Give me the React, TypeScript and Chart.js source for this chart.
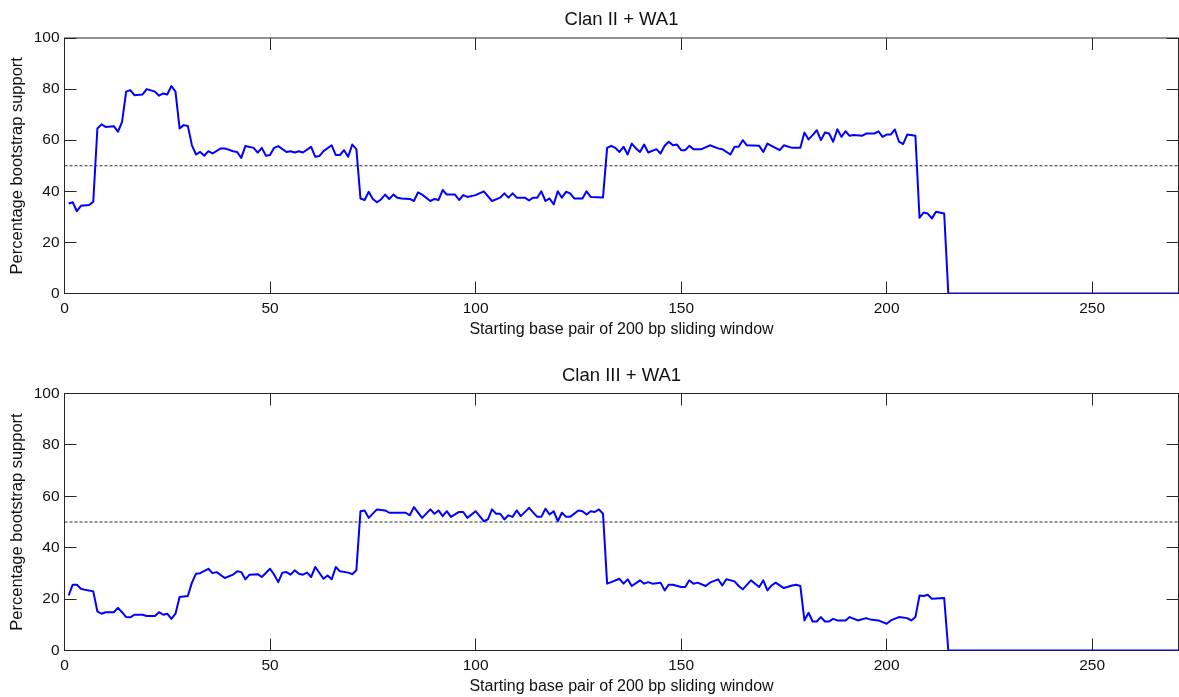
import React, { useEffect, useRef } from 'react';
import { Chart, registerables } from 'chart.js';

Chart.register(...registerables);

// Window start positions (bp) and bootstrap support (%) for Clan II + WA1
const clanIIStart = [1, 2, 3, 4, 6, 7, 8, 9, 10, 12, 13, 14, 15, 16, 17, 19, 20, 22, 23, 24, 25, 26, 27, 28, 29, 30, 31, 32, 33, 34, 35, 36, 38, 39, 41, 42, 43, 44, 46, 47, 48, 49, 50, 51, 52, 54, 55, 56, 57, 58, 60, 61, 62, 63, 65, 66, 67, 68, 69, 70, 71, 72, 73, 74, 75, 76, 77, 78, 79, 80, 81, 82, 84, 85, 86, 87, 89, 90, 91, 92, 93, 95, 96, 97, 98, 100, 102, 104, 106, 107, 108, 109, 110, 112, 113, 114, 115, 116, 117, 118, 119, 120, 121, 122, 123, 124, 126, 127, 128, 131, 132, 133, 134, 135, 136, 137, 138, 139, 140, 141, 142, 144, 145, 146, 147, 148, 149, 150, 151, 152, 153, 155, 157, 159, 160, 162, 163, 164, 165, 166, 169, 170, 171, 172, 174, 175, 177, 179, 180, 181, 182, 183, 184, 185, 186, 187, 188, 189, 190, 191, 192, 194, 195, 197, 198, 199, 200, 201, 202, 203, 204, 205, 207, 208, 209, 210, 211, 212, 214, 215, 271];
const clanIISupport = [35.2, 35.7, 32.2, 34.3, 34.6, 35.9, 64.6, 66.2, 65.2, 65.5, 63.3, 67.2, 79.0, 79.6, 77.6, 77.9, 80.0, 79.0, 77.4, 78.3, 77.9, 81.2, 79.0, 64.6, 65.9, 65.6, 58.0, 54.4, 55.4, 53.9, 55.7, 54.8, 56.8, 56.8, 55.7, 55.4, 53.1, 57.7, 57.0, 55.1, 57.0, 53.9, 54.2, 57.0, 57.7, 55.4, 55.7, 55.2, 55.7, 55.2, 57.4, 53.5, 53.8, 55.7, 58.0, 54.2, 54.2, 56.1, 53.5, 58.3, 56.5, 37.2, 36.6, 39.8, 37.0, 35.7, 36.8, 38.7, 37.0, 38.7, 37.5, 37.2, 37.0, 36.2, 39.6, 38.7, 36.2, 37.0, 36.6, 40.5, 38.7, 38.7, 36.6, 38.5, 37.8, 38.5, 40.0, 36.2, 37.5, 39.2, 37.5, 39.2, 37.5, 37.5, 36.4, 37.5, 37.5, 40.0, 36.2, 37.2, 34.9, 40.0, 37.5, 39.8, 39.2, 37.2, 37.2, 40.0, 37.8, 37.6, 57.0, 57.8, 57.0, 55.4, 57.4, 54.4, 58.7, 56.8, 55.4, 58.3, 55.2, 56.5, 54.8, 57.8, 59.4, 58.0, 58.3, 56.1, 56.1, 57.8, 56.5, 56.5, 58.0, 56.8, 56.5, 54.4, 57.4, 57.4, 60.0, 58.0, 57.8, 55.4, 58.7, 57.8, 56.1, 58.0, 57.0, 57.0, 63.0, 60.3, 62.0, 63.9, 60.0, 63.0, 62.6, 59.4, 64.3, 61.3, 63.5, 61.7, 62.0, 61.7, 62.6, 62.6, 63.5, 61.3, 62.2, 62.2, 64.2, 59.4, 58.5, 62.2, 61.7, 29.6, 31.7, 31.3, 29.4, 32.0, 31.3, 0, 0];

// Window start positions (bp) and bootstrap support (%) for Clan III + WA1
const clanIIIStart = [1, 2, 3, 4, 5, 7, 8, 9, 10, 12, 13, 14, 15, 16, 17, 19, 20, 22, 23, 24, 25, 26, 27, 28, 30, 31, 32, 33, 35, 36, 37, 39, 41, 42, 43, 44, 45, 47, 48, 50, 51, 52, 53, 54, 55, 56, 57, 58, 59, 60, 61, 63, 64, 65, 66, 67, 69, 70, 71, 72, 73, 74, 76, 78, 79, 83, 84, 85, 87, 89, 90, 91, 92, 93, 94, 96, 97, 98, 100, 102, 103, 104, 105, 106, 107, 108, 109, 110, 111, 113, 115, 116, 117, 118, 119, 120, 121, 122, 123, 125, 126, 127, 128, 129, 130, 131, 132, 133, 135, 136, 137, 138, 140, 141, 142, 143, 145, 146, 147, 148, 150, 151, 152, 153, 154, 156, 157, 159, 160, 161, 163, 164, 165, 167, 168, 169, 170, 171, 172, 173, 175, 177, 178, 179, 180, 181, 182, 183, 184, 185, 186, 187, 188, 190, 191, 193, 195, 196, 198, 200, 201, 203, 205, 206, 207, 208, 209, 210, 211, 214, 215, 271];
const clanIIISupport = [21.4, 25.6, 25.6, 24.0, 23.6, 23.0, 15.2, 14.3, 14.9, 14.9, 16.6, 14.9, 13.0, 12.9, 13.9, 13.9, 13.4, 13.4, 14.9, 13.9, 14.3, 12.3, 14.3, 20.8, 21.2, 26.4, 29.9, 30.1, 31.8, 30.1, 30.5, 28.2, 29.5, 30.8, 30.5, 27.7, 29.5, 29.7, 28.6, 31.8, 29.5, 26.6, 30.3, 30.5, 29.5, 31.2, 29.9, 29.5, 30.3, 28.6, 32.5, 27.9, 29.2, 27.7, 32.5, 30.8, 30.3, 29.7, 31.2, 54.2, 54.5, 51.6, 54.9, 54.5, 53.6, 53.6, 52.6, 55.8, 51.6, 54.9, 53.2, 54.5, 52.3, 54.2, 52.0, 53.9, 53.9, 51.6, 54.2, 50.3, 51.0, 54.9, 53.2, 53.2, 51.0, 52.6, 52.0, 54.5, 52.3, 55.5, 52.0, 52.0, 55.2, 52.9, 54.2, 50.3, 53.6, 52.0, 52.0, 54.5, 54.2, 52.9, 54.2, 53.9, 54.9, 53.2, 26.0, 26.6, 27.9, 26.0, 27.7, 25.1, 27.3, 26.0, 26.6, 26.0, 26.4, 23.4, 25.6, 25.6, 24.7, 24.7, 27.3, 26.0, 26.4, 25.1, 26.4, 27.7, 25.3, 27.7, 26.9, 25.1, 23.8, 27.3, 26.0, 24.7, 27.3, 23.4, 25.3, 26.4, 24.3, 25.3, 25.6, 25.1, 11.7, 14.7, 11.3, 11.3, 13.0, 11.3, 11.3, 12.3, 11.7, 11.7, 13.0, 11.7, 12.6, 12.1, 11.7, 10.4, 11.7, 13.0, 12.6, 11.7, 13.0, 21.4, 21.2, 21.7, 20.1, 20.4, 0, 0];

const xTickValues = [0, 50, 100, 150, 200, 250];
const yTickValues = [0, 20, 40, 60, 80, 100];
const xMax = 271;
const supportThreshold = 50;

const panelTitles = ['Clan II + WA1', 'Clan III + WA1'];
const xAxisTitle = 'Starting base pair of 200 bp sliding window';
const yAxisTitle = 'Percentage bootstrap support';

const FONT = '"Liberation Sans", Arial, Helvetica, sans-serif';
const TEXT = '#111111';

// Boxed axes with inward tick marks on all four sides, plus a centred title.
const framePlugin = {
  id: 'panelFrame',
  beforeDatasetsDraw(chart: any) {
    const { ctx, chartArea: a, scales } = chart;
    const tl = 12;
    ctx.save();
    ctx.strokeStyle = '#262626';
    ctx.lineWidth = 1;
    ctx.strokeRect(a.left, a.top, a.right - a.left, a.bottom - a.top);
    ctx.beginPath();
    for (const v of xTickValues) {
      const px = Math.round(scales.x.getPixelForValue(v) - 0.5) + 0.5;
      ctx.moveTo(px, a.bottom);
      ctx.lineTo(px, a.bottom - tl);
      ctx.moveTo(px, a.top);
      ctx.lineTo(px, a.top + tl);
    }
    for (const v of yTickValues) {
      const py = Math.round(scales.y.getPixelForValue(v) - 0.5) + 0.5;
      ctx.moveTo(a.left, py);
      ctx.lineTo(a.left + tl, py);
      ctx.moveTo(a.right, py);
      ctx.lineTo(a.right - tl, py);
    }
    ctx.stroke();
    ctx.restore();
  },
  afterDraw(chart: any, _args: any, opts: any) {
    const { ctx, chartArea: a } = chart;
    ctx.save();
    ctx.fillStyle = TEXT;
    ctx.font = `18.5px ${FONT}`;
    ctx.textAlign = 'center';
    ctx.textBaseline = 'alphabetic';
    ctx.fillText(opts.text, (a.left + a.right) / 2, opts.baseline);
    ctx.restore();
  },
};

type PanelProps = {
  xs: number[];
  ys: number[];
  title: string;
  height: number;
  padTop: number;
  xAxisHeight: number;
  titleBaseline: number;
  xTitlePad: number;
};

function Panel({ xs, ys, title, height, padTop, xAxisHeight, titleBaseline, xTitlePad }: PanelProps) {
  const ref = useRef<HTMLCanvasElement | null>(null);

  useEffect(() => {
    if (!ref.current) return;
    const tickFont = { family: FONT, size: 15.5 };
    const chart = new Chart(ref.current, {
      type: 'line',
      data: {
        datasets: [
          {
            data: xs.map((x, i) => ({ x, y: ys[i] })),
            borderColor: '#0000ff',
            borderWidth: 2,
            pointRadius: 0,
            tension: 0,
            borderJoinStyle: 'round',
          },
          {
            data: [
              { x: 0, y: supportThreshold },
              { x: xMax, y: supportThreshold },
            ],
            borderColor: '#2a2a2a',
            borderWidth: 1,
            borderDash: [3, 2],
            pointRadius: 0,
          },
        ],
      },
      options: {
        animation: false,
        responsive: false,
        maintainAspectRatio: false,
        layout: { padding: { top: padTop, left: 0, right: 0.5, bottom: 0 } },
        plugins: {
          legend: { display: false },
          tooltip: { enabled: false },
          panelFrame: { text: title, baseline: titleBaseline },
        } as any,
        scales: {
          x: {
            type: 'linear',
            min: 0,
            max: xMax,
            grid: { display: false, drawTicks: false },
            border: { display: false },
            afterBuildTicks: (s: any) => {
              s.ticks = xTickValues.map((value) => ({ value }));
            },
            afterFit: (s: any) => {
              s.height = xAxisHeight;
            },
            ticks: { font: tickFont, color: TEXT, padding: 6, maxRotation: 0, autoSkip: false },
            title: {
              display: true,
              text: xAxisTitle,
              font: { family: FONT, size: 16 },
              color: TEXT,
              padding: { top: 0, bottom: xTitlePad },
            },
          },
          y: {
            type: 'linear',
            min: 0,
            max: 100,
            grid: { display: false, drawTicks: false },
            border: { display: false },
            afterBuildTicks: (s: any) => {
              s.ticks = yTickValues.map((value) => ({ value }));
            },
            afterFit: (s: any) => {
              s.width = 64.5;
            },
            ticks: { font: tickFont, color: TEXT, padding: 5 },
            title: {
              display: true,
              text: yAxisTitle,
              font: { family: FONT, size: 16.5 },
              color: TEXT,
              padding: { top: 7.6, bottom: 0 },
            },
          },
        },
      },
      plugins: [framePlugin],
    } as any);
    return () => chart.destroy();
  }, [xs, ys, title, height, padTop, xAxisHeight, titleBaseline, xTitlePad]);

  return <canvas ref={ref} width={1179} height={height} style={{ display: 'block' }} />;
}

export default function App() {
  return (
    <div
      style={{
        position: 'fixed',
        left: 0,
        top: 0,
        width: 1179,
        height: 697,
        background: '#ffffff',
      }}
    >
      <Panel
        xs={clanIIStart}
        ys={clanIISupport}
        title={panelTitles[0]}
        height={348}
        padTop={38}
        xAxisHeight={54.5}
        titleBaseline={25}
        xTitlePad={8.4}
      />
      <Panel
        xs={clanIIIStart}
        ys={clanIIISupport}
        title={panelTitles[1]}
        height={349}
        padTop={45.5}
        xAxisHeight={46.5}
        titleBaseline={32.7}
        xTitlePad={0.7}
      />
    </div>
  );
}
